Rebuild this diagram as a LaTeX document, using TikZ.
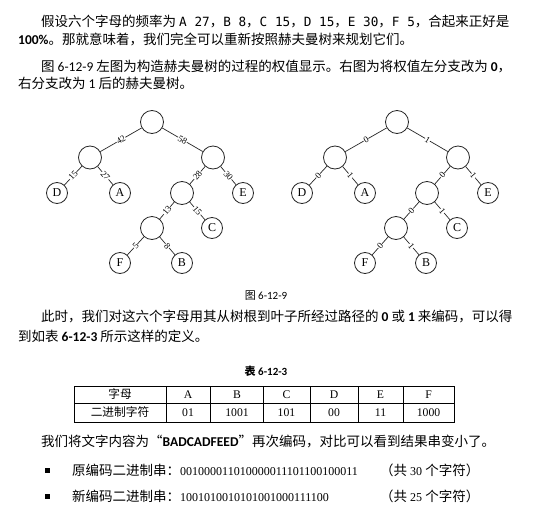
\documentclass[tikz,border=0pt]{standalone}
\usepackage{fontspec}
\setmainfont{Noto Sans CJK SC}
\newfontfamily\tms{Liberation Serif}
\newfontfamily\carl{Carlito}
\newfontfamily\mon{DejaVu Sans Mono}
\usepackage{tikz}
\newcommand\ltn[1]{{\mon\fontsize{12.7}{14}\selectfont #1}}
\newcommand\bsf[1]{{\carl\bfseries #1}}
\newcommand\csf[1]{{\carl #1}}
\newcommand\dig[1]{{\tms\fontsize{12}{14}\selectfont #1}}

\begin{document}
\begin{tikzpicture}[x=1pt,y=-1pt,
  every node/.style={inner sep=0pt},
  inner/.style={circle,draw=black!85,line width=0.8pt,minimum size=23pt},
  leaf/.style={circle,draw=black!85,line width=0.8pt,minimum size=21pt,font=\tms\fontsize{12}{12}\selectfont},
  branch/.style={draw=black!85,line width=0.7pt},
  wt/.style={midway,sloped,fill=white,inner sep=0.4pt,font=\tms\fontsize{9}{9}\selectfont},
  txt/.style={anchor=base west,font=\fontsize{13.5}{16}\selectfont},
  capt/.style={anchor=base,font=\fontsize{11}{13}\selectfont},
  cell/.style={font=\fontsize{11.7}{14}\selectfont}]
  \fill[white] (0,0) rectangle (541,506);
  \useasboundingbox (0,0) rectangle (541,506);

  \node[txt] (p1) at (41,26) {假设六个字母的频率为 \ltn{A 27}，\ltn{B 8}，\ltn{C 15}，\ltn{D 15}，\ltn{E 30}，\ltn{F 5}，合起来正好是};
  \node[txt] (p2) at (18,44) {\bsf{100\%}。那就意味着，我们完全可以重新按照赫夫曼树来规划它们。};
  \node[txt] (p3) at (41,71.5) {图 \csf{6-12-9} 左图为构造赫夫曼树的过程的权值显示。右图为将权值左分支改为 \bsf{0}，};
  \node[txt] (p4) at (18,88.5) {右分支改为 \csf{1} 后的赫夫曼树。};

  \node[inner] (r0) at (152,122) {};
  \node[inner] (l1) at (90,157.5) {};
  \node[inner] (r1) at (213,157.5) {};
  \node[leaf] (d) at (57,193) {D};
  \node[leaf] (a) at (120,193) {A};
  \node[inner] (r2) at (182,193) {};
  \node[leaf] (e) at (243,193) {E};
  \node[inner] (r3) at (152,228) {};
  \node[leaf] (c) at (212,228) {C};
  \node[leaf] (f) at (120,263) {F};
  \node[leaf] (b) at (182,263) {B};
  \draw[branch] (r0) -- node[wt] {42} (l1);
  \draw[branch] (r0) -- node[wt] {58} (r1);
  \draw[branch] (l1) -- node[wt] {15} (d);
  \draw[branch] (l1) -- node[wt] {27} (a);
  \draw[branch] (r1) -- node[wt] {28} (r2);
  \draw[branch] (r1) -- node[wt] {30} (e);
  \draw[branch] (r2) -- node[wt] {13} (r3);
  \draw[branch] (r2) -- node[wt] {15} (c);
  \draw[branch] (r3) -- node[wt] {5} (f);
  \draw[branch] (r3) -- node[wt] {8} (b);

  \node[inner] (q0) at (397,122) {};
  \node[inner] (ql1) at (335,157.5) {};
  \node[inner] (qr1) at (458,157.5) {};
  \node[leaf] (qd) at (302,193) {D};
  \node[leaf] (qa) at (365,193) {A};
  \node[inner] (qr2) at (427,193) {};
  \node[leaf] (qe) at (488,193) {E};
  \node[inner] (qr3) at (396,228) {};
  \node[leaf] (qc) at (457,228) {C};
  \node[leaf] (qf) at (365,263) {F};
  \node[leaf] (qb) at (426,263) {B};
  \draw[branch] (q0) -- node[wt] {0} (ql1);
  \draw[branch] (q0) -- node[wt] {1} (qr1);
  \draw[branch] (ql1) -- node[wt] {0} (qd);
  \draw[branch] (ql1) -- node[wt] {1} (qa);
  \draw[branch] (qr1) -- node[wt] {0} (qr2);
  \draw[branch] (qr1) -- node[wt] {1} (qe);
  \draw[branch] (qr2) -- node[wt] {0} (qr3);
  \draw[branch] (qr2) -- node[wt] {1} (qc);
  \draw[branch] (qr3) -- node[wt] {0} (qf);
  \draw[branch] (qr3) -- node[wt] {1} (qb);

  \node[capt] (fig) at (266,299) {图 \csf{6-12-9}};
  \node[txt] (p5) at (41,321) {此时，我们对这六个字母用其从树根到叶子所经过路径的 \bsf{0} 或 \bsf{1} 来编码，可以得};
  \node[txt] (p6) at (18,341) {到如表 \bsf{6-12-3} 所示这样的定义。};
  \node[capt] (tab) at (266,375) {\bfseries 表 \bsf{6-12-3}};

  \draw[line width=0.7pt] (74,386) rectangle (454,422);
  \draw[line width=0.7pt] (74,403) -- (454,403);
  \foreach \x in {166,210,263,310,358,403}
    \draw[line width=0.7pt] (\x,386) -- (\x,422);
  \node[cell] (h0) at (120,394.5) {字母};
  \node[cell] (ha) at (188,394.5) {\tms A};
  \node[cell] (hb) at (237,394.5) {\tms B};
  \node[cell] (hc) at (286.5,394.5) {\tms C};
  \node[cell] (hd) at (334,394.5) {\tms D};
  \node[cell] (he) at (380.5,394.5) {\tms E};
  \node[cell] (hf) at (428.5,394.5) {\tms F};
  \node[cell] (v0) at (120,412.5) {二进制字符};
  \node[cell] (va) at (188,412.5) {\tms 01};
  \node[cell] (vb) at (237,412.5) {\tms 1001};
  \node[cell] (vc) at (286.5,412.5) {\tms 101};
  \node[cell] (vd) at (334,412.5) {\tms 00};
  \node[cell] (ve) at (380.5,412.5) {\tms 11};
  \node[cell] (vf) at (428.5,412.5) {\tms 1000};

  \node[txt] (p7) at (41,446.5) {我们将文字内容为“\bsf{BADCADFEED}”再次编码，对比可以看到结果串变小了。};
  \node[fill=black,minimum size=5pt] (s1) at (47,470) {};
  \node[txt] (b1) at (72,475) {原编码二进制串：\dig{001000011010000011101100100011}};
  \node[txt] (n1) at (380,475) {（共 \dig{30} 个字符）};
  \node[fill=black,minimum size=5pt] (s2) at (47,496) {};
  \node[txt] (b2) at (72,501) {新编码二进制串：\dig{1001010010101001000111100}};
  \node[txt] (n2) at (380,501) {（共 \dig{25} 个字符）};
\end{tikzpicture}
\end{document}
